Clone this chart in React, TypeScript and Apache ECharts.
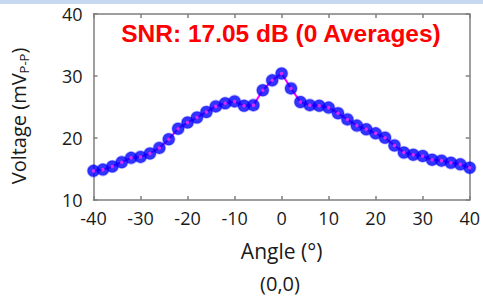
import React, { useEffect, useRef } from "react";
import * as echarts from "echarts";

const angles = [-40,-38,-36,-34,-32,-30,-28,-26,-24,-22,-20,-18,-16,-14,-12,-10,-8,-6,-4,-2,0,2,4,6,8,10,12,14,16,18,20,22,24,26,28,30,32,34,36,38,40];
const voltage = [14.7,14.9,15.4,16.1,16.8,16.95,17.5,18.4,19.8,21.5,22.5,23.3,24.2,25.1,25.6,25.9,25.2,25.3,27.7,29.3,30.4,28.0,25.8,25.3,25.2,24.9,24.0,23.0,22.0,21.4,20.75,20.05,18.8,17.65,17.3,17.1,16.5,16.35,16.0,15.75,15.2];
const xTicks = [-40,-30,-20,-10,0,10,20,30,40];
const yTicks = [10,20,30,40];
const titleText = "SNR: 17.05 dB (0 Averages)";
const xName = "Angle (°)";
const subCaption = "(0,0)";

export default function App() {
  const ref = useRef<HTMLDivElement>(null);
  useEffect(() => {
    if (!ref.current) return;
    const chart = echarts.init(ref.current, null, { renderer: "svg" });
    const pts = angles.map((a, i) => [a, voltage[i]]);
    const font = "'Open Sans', sans-serif";
    const txt = "#1a1a1a";
    const axisLineStyle = { color: "#7f7f7f", width: 1.5 };
    chart.setOption({
      animation: false,
      backgroundColor: "#ffffff",
      grid: { left: 92, right: 13, top: 14, bottom: 96 },
      graphic: [
        { type: "rect", left: 0, top: 0, shape: { width: 483, height: 4 }, style: { fill: "#c6d9f0" } },
        { type: "text", x: 281, y: 33, z: 10, style: { text: titleText, textAlign: "center", textVerticalAlign: "middle",
          fontSize: 24.5, fontWeight: "bold", fontFamily: "'Liberation Sans', Arial, sans-serif", fill: "#ff0000" } },
        { type: "text", x: 280, y: 283, style: { text: subCaption, textAlign: "center", textVerticalAlign: "middle",
          fontSize: 20, lineHeight: 20, fontFamily: font, fill: txt } },
      ],
      xAxis: [
        {
          type: "value", min: -40, max: 40, interval: 10,
          axisLine: { show: true, onZero: false, lineStyle: axisLineStyle },
          axisTick: { show: true, inside: true, length: 4, lineStyle: axisLineStyle },
          splitLine: { show: false },
          axisLabel: { fontSize: 18, color: txt, fontFamily: font, margin: 9,
            formatter: (v: number) => (xTicks.includes(v) ? String(v) : "") },
          name: xName, nameLocation: "middle", nameGap: 40,
          nameTextStyle: { fontSize: 21, color: txt, fontFamily: font },
        },
        {
          type: "value", position: "top", min: -40, max: 40, interval: 10,
          axisLine: { show: true, onZero: false, lineStyle: axisLineStyle },
          axisTick: { show: true, inside: true, length: 4, lineStyle: axisLineStyle },
          axisLabel: { show: false }, splitLine: { show: false },
        },
      ],
      yAxis: [
        {
          type: "value", min: 10, max: 40, interval: 10,
          axisLine: { show: true, onZero: false, lineStyle: axisLineStyle },
          axisTick: { show: true, inside: true, length: 4, lineStyle: axisLineStyle },
          splitLine: { show: false },
          axisLabel: { fontSize: 18, color: txt, fontFamily: font, margin: 11,
            formatter: (v: number) => (yTicks.includes(v) ? String(v) : "") },
          name: "Voltage (mV{sub|P-P})", nameLocation: "middle", nameGap: 63,
          nameTextStyle: { fontSize: 20, color: txt, fontFamily: font, padding: [0, 18, 0, 0],
            rich: { sub: { fontSize: 13, fontFamily: font, color: txt, verticalAlign: "bottom", padding: [12, 0, 0, 0] } } },
        },
        {
          type: "value", position: "right", min: 10, max: 40, interval: 10,
          axisLine: { show: true, onZero: false, lineStyle: axisLineStyle },
          axisTick: { show: true, inside: true, length: 4, lineStyle: axisLineStyle },
          axisLabel: { show: false }, splitLine: { show: false },
        },
      ],
      series: [
        { type: "line", data: pts, showSymbol: false, lineStyle: { color: "#ff00ff", width: 2 }, z: 2 },
        { type: "scatter", data: pts, symbol: "circle", symbolSize: 12,
          itemStyle: { color: "#0000ff", borderColor: "rgba(0,0,255,0.35)", borderWidth: 1.5 }, z: 3 },
        { type: "scatter", data: pts, symbol: "circle", symbolSize: 3.5, itemStyle: { color: "#ff33ff" }, z: 4 },
      ],
    });
    return () => chart.dispose();
  }, []);
  return <div ref={ref} style={{ position: "fixed", left: 0, top: 0, width: 483, height: 296 }} />;
}
